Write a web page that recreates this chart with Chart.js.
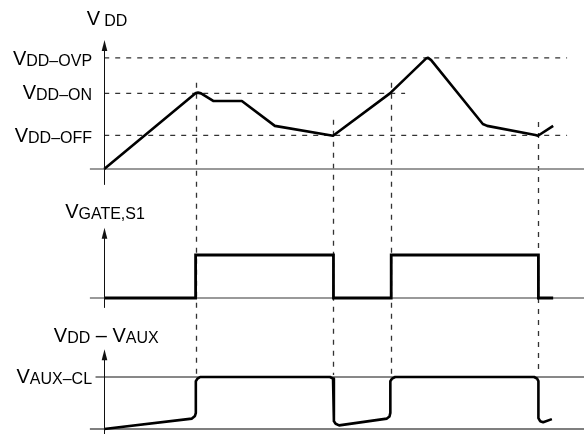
<!DOCTYPE html>
<html>
<head>
<meta charset="utf-8">
<script src="https://cdn.jsdelivr.net/npm/chart.js@4"></script>
<style>
  html, body { margin: 0; padding: 0; background: #fff; }
  #wrap { width: 584px; height: 434px; }
</style>
</head>
<body>
<div id="wrap"><canvas id="timing" width="584" height="434"></canvas></div>
<script>
// --- DATOS ---

// umbrales (unidades del eje VDD y del eje VDD-VAUX)
const VDD_OFF = 8.9;
const VDD_ON = 20;
const VDD_OVP = 29.4;
const VAUX_CL = 10;

// instantes de conmutacion (lineas verticales)
const eventTimes = [21.05, 52.8, 66.1, 100];
const eventTops = [22.8, 13.0, 22.8, 12.4];

// VDD
const vddTime  = [0, 21.1, 21.6, 22.3, 25.1, 31.7, 39.3, 52.7, 65.8, 74.1, 74.6, 75.3, 87.2, 88.2, 99.3, 99.9, 103.4];
const vddLevel = [0, 20.1, 20.2, 20.0, 18.0, 18.0, 11.4, 8.8, 20.0, 29.2, 29.4, 28.8, 11.9, 11.4, 9.0, 8.8, 11.4];

// VGATE,S1
const gateTime  = [0, 21.05, 21.05, 52.8, 52.8, 66.1, 66.1, 100, 100, 103.4];
const gateLevel = [0, 0, 1, 1, 0, 0, 1, 1, 0, 0];

// VDD - VAUX
const auxTime  = [0, 20.2, 20.9, 21.1, 21.1, 21.5, 22.1, 52.0, 52.7, 52.9, 52.9, 53.3, 54.1, 65.1, 65.7, 65.9, 65.9, 66.3, 67.0, 99.0, 99.7, 100.0, 100.0, 100.4, 101.1, 103.1];
const auxLevel = [0, 2.0, 2.5, 3.1, 9.2, 9.7, 10, 10, 9.7, 9.2, 1.5, 1.0, 0.7, 2.0, 2.4, 3.1, 9.2, 9.7, 10, 10, 9.7, 9.2, 2.1, 1.5, 1.3, 1.9];

// --- UTILIDADES ---

const pts = (xs, ys) => xs.map((x, i) => ({ x: x, y: ys[i] }));
const seg = (x0, x1, y) => [{ x: x0, y: y }, { x: x1, y: y }];

const BIG = '20px "Liberation Sans", Arial, sans-serif';
const SMALL = '16px "Liberation Sans", Arial, sans-serif';

// dibuja texto con subindices: partes = [[texto, grande?], ...]
function drawParts(ctx, parts, x, y, align) {
    let w = 0;
    parts.forEach(p => { ctx.font = p[1] ? BIG : SMALL; w += ctx.measureText(p[0]).width + (p[2] || 0); });
    let cx = align === 'right' ? x - w : x;
    ctx.textAlign = 'left';
    ctx.textBaseline = 'alphabetic';
    parts.forEach(p => {
        ctx.font = p[1] ? BIG : SMALL;
        ctx.fillText(p[0], cx, p[1] ? y : y + 1);
        cx += ctx.measureText(p[0]).width + (p[2] || 0);
    });
}

function arrow(ctx, x, yTip) {
    ctx.beginPath();
    ctx.moveTo(x, yTip);
    ctx.lineTo(x - 2.8, yTip + 11);
    ctx.lineTo(x + 2.8, yTip + 11);
    ctx.closePath();
    ctx.fill();
}

// --- PLUGIN: ejes, lineas verticales y etiquetas ---

const decor = {
    id: 'decor',
    beforeDatasetsDraw(chart) {
        const { ctx, scales } = chart;
        const X = scales.x, Y1 = scales.y1, Y3 = scales.y3;
        ctx.save();
        ctx.strokeStyle = '#333';
        ctx.lineWidth = 1.3;
        ctx.setLineDash([5, 6]);
        eventTimes.forEach((t, i) => {
            const px = Math.round(X.getPixelForValue(t)) + 0.5;
            ctx.beginPath();
            ctx.moveTo(px, Y1.getPixelForValue(eventTops[i]));
            ctx.lineTo(px, Y3.getPixelForValue(VAUX_CL) - 2);
            ctx.stroke();
        });
        ctx.restore();
    },
    afterDraw(chart) {
        const { ctx, scales } = chart;
        const X = scales.x, Y1 = scales.y1, Y2 = scales.y2, Y3 = scales.y3;
        const ax = Math.round(X.getPixelForValue(0)) + 0.5;
        ctx.save();
        ctx.fillStyle = '#111';
        ctx.strokeStyle = '#111';
        ctx.lineWidth = 1;
        // ejes verticales con flecha
        [[Y1, 32.0, -4.2], [Y2, 1.45, -0.23], [Y3, 13.8, -0.96]].forEach(a => {
            const top = a[0].getPixelForValue(a[1]);
            ctx.beginPath();
            ctx.moveTo(ax, top);
            ctx.lineTo(ax, a[0].getPixelForValue(a[2]));
            ctx.stroke();
            arrow(ctx, ax, top - 8);
        });

        const lx = X.getPixelForValue(-2.8);
        ctx.fillStyle = '#000';
        // titulos
        drawParts(ctx, [['V', true, 4], ['DD', false]], X.getPixelForValue(-4), Y1.getPixelForValue(38.1), 'left');
        drawParts(ctx, [['V', true], ['GATE,S1', false]], X.getPixelForValue(-9), Y2.getPixelForValue(1.86), 'left');
        drawParts(ctx, [['V', true], ['DD', false], [' \u2013 ', true], ['V', true], ['AUX', false]], X.getPixelForValue(-11.6), Y3.getPixelForValue(16.7), 'left');
        // niveles
        drawParts(ctx, [['V', true], ['DD\u2013OVP', false]], lx, Y1.getPixelForValue(VDD_OVP) + 7, 'right');
        drawParts(ctx, [['V', true], ['DD\u2013ON', false]], lx, Y1.getPixelForValue(VDD_ON) + 6, 'right');
        drawParts(ctx, [['V', true], ['DD\u2013OFF', false]], lx, Y1.getPixelForValue(VDD_OFF) + 7, 'right');
        drawParts(ctx, [['V', true], ['AUX\u2013CL', false]], lx, Y3.getPixelForValue(VAUX_CL) + 6, 'right');
        ctx.restore();
    }
};

// --- GRAFICO ---

const trace = (data, axis, width, join) => ({
    data: data, yAxisID: axis, showLine: true, pointRadius: 0,
    borderColor: '#000', borderWidth: width, borderJoinStyle: join || 'round',
    borderCapStyle: 'butt', tension: 0, fill: false
});
const guide = (data, axis, color, width, dash) => ({
    data: data, yAxisID: axis, showLine: true, pointRadius: 0,
    borderColor: color, borderWidth: width, borderDash: dash || [], tension: 0, fill: false
});

const ctx = document.getElementById('timing').getContext('2d');
new Chart(ctx, {
    type: 'scatter',
    data: {
        datasets: [
            trace(pts(vddTime, vddLevel), 'y1', 2.6),
            trace(pts(gateTime, gateLevel), 'y2', 2.8, 'miter'),
            trace(pts(auxTime, auxLevel), 'y3', 2.6),
            guide(seg(0, 106.6, VDD_OVP), 'y1', '#333', 1.3, [5, 6]),
            guide(seg(0, 69.3, VDD_ON), 'y1', '#333', 1.3, [5, 6]),
            guide(seg(0, 106.6, VDD_OFF), 'y1', '#333', 1.3, [5, 6]),
            guide(seg(-2, 110.5, VAUX_CL), 'y3', '#111', 1),
            guide(seg(-3.3, 110.5, 0), 'y1', '#777', 1.6),
            guide(seg(-3.3, 110.5, 0), 'y2', '#777', 1.6),
            guide(seg(-3.3, 110.5, 0), 'y3', '#555', 1.4)
        ]
    },
    options: {
        responsive: false,
        animation: false,
        devicePixelRatio: 1,
        layout: { padding: 0 },
        plugins: { legend: { display: false }, tooltip: { enabled: false } },
        scales: {
            x: { type: 'linear', min: -24, max: 110.5, display: false },
            y1: { type: 'linear', min: -70.1, max: 44.7, display: false },
            y2: { type: 'linear', min: -3.163, max: 6.93, display: false },
            y3: { type: 'linear', min: -0.96, max: 82.5, display: false }
        }
    },
    plugins: [decor]
});
</script>
</body>
</html>
